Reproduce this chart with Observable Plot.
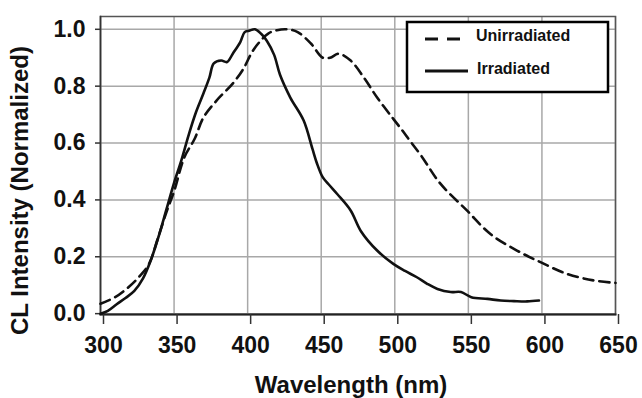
<!DOCTYPE html>
<html><head><meta charset="utf-8">
<script src="https://cdn.jsdelivr.net/npm/d3@7"></script>
<script src="https://cdn.jsdelivr.net/npm/@observablehq/plot@0.6"></script>
<style>
body{margin:0;background:#fff}
svg{font-family:"Liberation Sans",Arial,sans-serif;font-weight:bold}
</style>
</head><body><div id="chart"></div>
<script>
const seriesNames = ["Unirradiated", "Irradiated"];
const xTicks = [300, 350, 400, 450, 500, 550, 600, 650];
const yTicks = [0.0, 0.2, 0.4, 0.6, 0.8, 1.0];
const xTitle = "Wavelength (nm)";
const yTitle = "CL Intensity (Normalized)";

const unirrWl  = [300, 310, 319, 327, 333, 339, 345, 350, 357, 364, 370, 379, 390, 397, 403, 408, 414, 420, 427, 434, 443, 451, 456, 462, 470, 479, 488, 499, 505, 510, 518, 531, 549, 565, 583, 599, 617, 635, 650];
const unirrVal = [0.035, 0.058, 0.093, 0.134, 0.175, 0.265, 0.36, 0.43, 0.55, 0.615, 0.69, 0.75, 0.81, 0.86, 0.92, 0.955, 0.985, 0.997, 1.0, 0.99, 0.95, 0.90, 0.90, 0.914, 0.89, 0.83, 0.76, 0.685, 0.645, 0.61, 0.555, 0.457, 0.363, 0.28, 0.222, 0.181, 0.14, 0.117, 0.108];

const irrWl  = [300, 305, 311, 317, 323, 329, 334, 340, 345, 350, 355, 360, 365, 370, 374, 377, 382, 386, 390, 395, 398, 401, 405, 409, 413, 418, 422, 429, 438, 444, 447, 451, 455, 461, 470, 477, 488, 499, 507, 515, 522, 529, 538, 545, 552, 563, 572, 581, 590, 598];
const irrVal = [0.0, 0.01, 0.033, 0.055, 0.08, 0.125, 0.185, 0.28, 0.37, 0.46, 0.54, 0.63, 0.71, 0.775, 0.83, 0.88, 0.89, 0.885, 0.915, 0.955, 0.99, 0.995, 1.0, 0.985, 0.96, 0.91, 0.84, 0.76, 0.68, 0.58, 0.53, 0.48, 0.455, 0.42, 0.363, 0.29, 0.222, 0.175, 0.15, 0.128, 0.105, 0.087, 0.076, 0.076, 0.058, 0.052, 0.046, 0.044, 0.043, 0.046];

const unirr = unirrWl.map((w, i) => ({wl: w, v: unirrVal[i], s: seriesNames[0]}));
const irr = irrWl.map((w, i) => ({wl: w, v: irrVal[i], s: seriesNames[1]}));

const chart = Plot.plot({
  width: 642, height: 398,
  marginTop: 16, marginBottom: 84, marginLeft: 100, marginRight: 27,
  style: {fontSize: "23px", fontWeight: "bold", color: "#111", background: "#fff"},
  x: {domain: [300, 650]},
  y: {domain: [-0.003, 1.045]},
  marks: [
    Plot.gridX(xTicks, {stroke: "#a8a8a8", strokeOpacity: 1, strokeWidth: 1.5}),
    Plot.gridY(yTicks, {stroke: "#a8a8a8", strokeOpacity: 1, strokeWidth: 1.5}),
    Plot.frame({stroke: "#555", strokeWidth: 1.5}),
    Plot.frame({anchor: "bottom", stroke: "#222", strokeWidth: 2}),
    Plot.frame({anchor: "left", stroke: "#333", strokeWidth: 1.5}),
    Plot.axisX(xTicks, {tickSize: 10, tickPadding: 12, stroke: "#333", strokeWidth: 1.5, label: null, dx: 3}),
    Plot.axisY(yTicks, {tickSize: 5, tickPadding: 10, stroke: "#333", strokeWidth: 1.5, label: null, tickFormat: d3.format(".1f")}),
    Plot.line(unirr, {x: "wl", y: "v", stroke: "#111", strokeWidth: 2.6, strokeDasharray: "10,6", curve: "catmull-rom"}),
    Plot.line(irr, {x: "wl", y: "v", stroke: "#111", strokeWidth: 2.6, curve: "catmull-rom"}),
    Plot.text([xTitle], {frameAnchor: "bottom", text: d => d, fontSize: 24, fontWeight: "bold", dx: -7, dy: 71, lineAnchor: "middle", textAnchor: "middle", fill: "#111"}),
    Plot.text([yTitle], {frameAnchor: "left", text: d => d, fontSize: 24, fontWeight: "bold", rotate: -90, dx: -80, dy: 25, lineAnchor: "middle", textAnchor: "middle", fill: "#111"})
  ]
});
document.getElementById("chart").appendChild(chart);

// Legend overlay
const svg = d3.select(chart);
const lg = svg.append("g").attr("text-anchor", "start");
lg.append("rect").attr("x", 407).attr("y", 22).attr("width", 201).attr("height", 70)
  .attr("fill", "#fff").attr("stroke", "#000").attr("stroke-width", 2.5);
lg.append("line").attr("x1", 425).attr("x2", 460).attr("y1", 39).attr("y2", 39)
  .attr("stroke", "#111").attr("stroke-width", 3).attr("stroke-dasharray", "13,9");
lg.append("line").attr("x1", 425).attr("x2", 468).attr("y1", 71).attr("y2", 71)
  .attr("stroke", "#111").attr("stroke-width", 3);
lg.append("text").attr("x", 476).attr("y", 40.5).attr("font-size", 16).attr("fill", "#111").attr("text-anchor", "start").text(seriesNames[0]);
lg.append("text").attr("x", 477).attr("y", 73.5).attr("font-size", 16).attr("fill", "#111").attr("text-anchor", "start").text(seriesNames[1]);
</script>
</body></html>
